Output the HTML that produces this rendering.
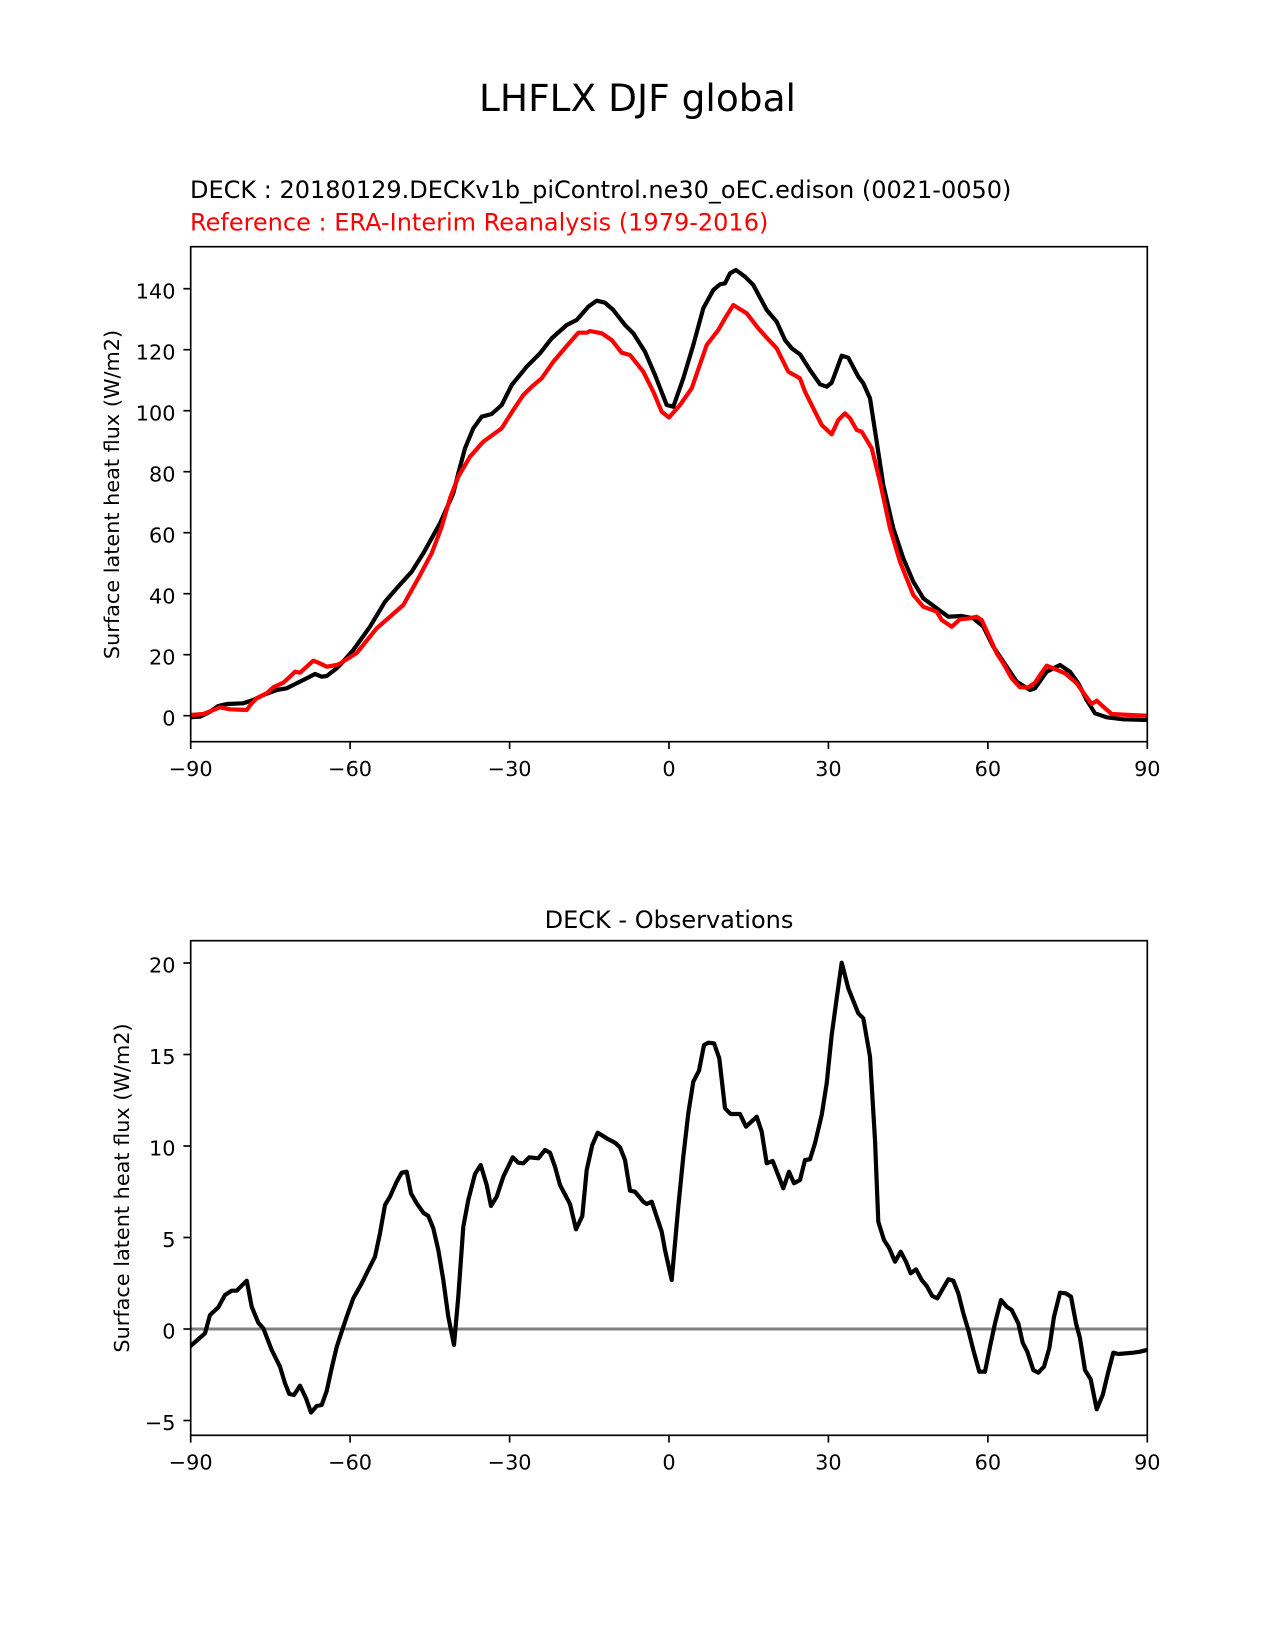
<!DOCTYPE html>
<html><head><meta charset="utf-8"><style>
html,body{margin:0;padding:0;background:#fff;}
svg{display:block;}
text{font-family:"DejaVu Sans","Liberation Sans",sans-serif;fill:#000;}
</style></head><body>
<svg width="1275" height="1650" viewBox="0 0 1275 1650" xmlns="http://www.w3.org/2000/svg">
<defs>
<clipPath id="c1"><rect x="190.7" y="246.7" width="956.6" height="495"/></clipPath>
<clipPath id="c2"><rect x="190.7" y="940.7" width="956.6" height="494.6"/></clipPath>
</defs>
<rect width="1275" height="1650" fill="#fff"/>
<text x="637.5" y="111" font-size="37.5" text-anchor="middle">LHFLX DJF global</text>
<text x="190" y="198" font-size="24">DECK : 20180129.DECKv1b_piControl.ne30_oEC.edison (0021-0050)</text>
<text x="190" y="230.5" font-size="24" style="fill:#ff0000">Reference : ERA-Interim Reanalysis (1979-2016)</text>

<!-- top plot -->
<g clip-path="url(#c1)" fill="none" stroke-width="4.2" stroke-linejoin="round" stroke-linecap="square">
<polyline stroke="#000" points="190.7,717.3 200,716.7 210,711.7 218.3,706 226.7,704 243.3,703.3 253.3,700 263.3,695 276.7,690 286.7,688.3 296.7,683.3 306.7,678.3 315,674 321.7,676.7 326.7,676 336.7,668.3 340,665 353.3,650 370,626.7 385,601.7 396.7,588.3 411.7,571.7 423.3,553.3 440,523.3 453.3,493.3 458.3,473.3 465,448.3 473.3,428.3 481.7,416.7 491.7,414 501.7,405 511.7,385 526.7,366.7 540,353.3 551.7,338.3 566.7,325 576.7,320 588.3,306.7 596.7,300.7 605,302.7 613.3,310 625,325 633.3,333.3 645,351.7 655,375 666.7,405 673.3,406.7 683.3,378.3 693.3,345 703.3,308.3 713.3,290 720,284.3 725,283.3 730,273.3 736,270 745,276.7 753.3,285 766.7,310 776.7,321.7 785,340 791.7,348.3 800,354.3 810,370 820,384.3 826.7,386.7 831.7,382.7 841.7,355.7 848.3,357.7 858.3,376.7 863.3,383.3 870,398.3 876.7,441.7 883.3,485 893.3,528.3 903.3,558.3 913.3,581.7 923.3,598.3 936.7,608.3 948.3,616.7 961.7,616 973.3,618.3 983.3,626.7 993.3,646.7 1003.3,661.7 1016.7,681.7 1030,690 1035,688.3 1046.7,671.7 1060,665 1070,671.7 1078.3,683.3 1086.7,700 1095,713.3 1106.7,717.3 1123.3,719.3 1146.7,720"/>
<polyline stroke="#ff0000" points="190.7,715 203.3,714 211.7,710.7 220,707.3 230,709.3 246.7,710 251.7,703.3 256.7,698.3 266.7,693.3 273.3,687.3 283.3,682.7 290,676.7 295,671.7 300,672.7 306.7,666.7 313.3,660.7 318.3,662.7 326.7,666.7 336.7,665 340,663.5 356.7,653 376.7,628.3 390,616.7 403.3,605 418.3,578.3 431.7,553.3 441.7,526.7 450,498.3 458.3,476.7 470,456.7 483.3,441.7 501.7,428.3 513.3,410 523.3,395 531.7,386.7 541.7,378.3 553.3,361.7 566.7,346 578.3,332.7 586.7,332.7 590,331 601.7,333.3 611.7,340 621.7,352.7 630,355 643.3,371.7 653.3,391.7 661.7,411.7 669,417.5 680,405 691.7,388.3 706.7,345 718.3,330 725,318.3 733.3,305 746.7,313.3 758.3,328.3 766.7,337.7 776.7,348.3 788.3,371.7 800,378.3 805,391.7 813.3,408.3 821.7,425 831.7,434.3 838.3,420 845,413.3 850,418.3 856.7,430 861.7,431.7 871.7,448.3 880,481.7 890,528.3 900,561.7 913.3,595 923.3,606.7 936.7,611.7 941.7,620 951.7,626.7 960,619.3 970,618.3 976.7,616.7 981.7,620 990,638.3 996.7,653.3 1003.3,663.3 1011.7,678.3 1020,687.3 1028.3,687.3 1035,682.7 1041.7,672.7 1046.7,665.7 1053.3,668.3 1065,673.3 1076.7,683.3 1085,695 1091.7,704 1096.7,700.7 1103.3,706.7 1111.7,714 1130,715 1146.7,715.7"/>
</g>
<rect x="190.7" y="246.7" width="956.6" height="495" fill="none" stroke="#000" stroke-width="1.67"/>
<g stroke="#000" stroke-width="1.67">
<line x1="190.7" y1="741.7" x2="190.7" y2="749"/>
<line x1="350.1" y1="741.7" x2="350.1" y2="749"/>
<line x1="509.6" y1="741.7" x2="509.6" y2="749"/>
<line x1="669" y1="741.7" x2="669" y2="749"/>
<line x1="828.4" y1="741.7" x2="828.4" y2="749"/>
<line x1="987.9" y1="741.7" x2="987.9" y2="749"/>
<line x1="1147.3" y1="741.7" x2="1147.3" y2="749"/>
<line x1="183.4" y1="715.7" x2="190.7" y2="715.7"/>
<line x1="183.4" y1="654.7" x2="190.7" y2="654.7"/>
<line x1="183.4" y1="593.7" x2="190.7" y2="593.7"/>
<line x1="183.4" y1="532.7" x2="190.7" y2="532.7"/>
<line x1="183.4" y1="471.7" x2="190.7" y2="471.7"/>
<line x1="183.4" y1="410.7" x2="190.7" y2="410.7"/>
<line x1="183.4" y1="349.7" x2="190.7" y2="349.7"/>
<line x1="183.4" y1="288.7" x2="190.7" y2="288.7"/>
</g>
<g font-size="20.8" text-anchor="middle">
<text x="190.7" y="776">−90</text>
<text x="350.1" y="776">−60</text>
<text x="509.6" y="776">−30</text>
<text x="669" y="776">0</text>
<text x="828.4" y="776">30</text>
<text x="987.9" y="776">60</text>
<text x="1147.3" y="776">90</text>
</g>
<g font-size="20.8" text-anchor="end">
<text x="175.5" y="725.3">0</text>
<text x="175.5" y="664.3">20</text>
<text x="175.5" y="603.3">40</text>
<text x="175.5" y="542.3">60</text>
<text x="175.5" y="481.3">80</text>
<text x="175.5" y="420.3">100</text>
<text x="175.5" y="359.3">120</text>
<text x="175.5" y="298.3">140</text>
</g>
<text font-size="20.8" text-anchor="middle" transform="translate(119,494.5) rotate(-90)">Surface latent heat flux (W/m2)</text>

<!-- bottom plot -->
<text x="669" y="928" font-size="24" text-anchor="middle">DECK - Observations</text>
<g clip-path="url(#c2)" fill="none" stroke-linejoin="round" stroke-linecap="square">
<line x1="190.7" y1="1329" x2="1147.3" y2="1329" stroke="#808080" stroke-width="3.1"/>
<polyline stroke="#000" stroke-width="4.2" points="191.7,1345 205,1333.3 210,1315 218.3,1307.3 225,1295 231.7,1290.7 236.7,1290.7 246.7,1280.7 251.7,1306.7 258.3,1322.7 263.3,1328.3 271.7,1350 280,1366.7 285,1383.3 289.3,1394 294,1395 300,1385.7 306,1398.3 311,1412.5 316.7,1406 321.7,1405 326.7,1391 331.7,1368 336.7,1347 341.7,1331.7 346.7,1316.7 353.3,1298.3 361.7,1283.3 368.3,1270 375,1256.7 380,1233.3 385,1205 390,1196.7 396.7,1181.7 401.7,1172.7 406.7,1171.7 411,1193.3 416.7,1203.3 423.3,1212.7 428.3,1216 433.3,1228.3 438.3,1250 443.3,1280 448.3,1316.7 454,1345 458.3,1296.7 463.3,1226.7 468.3,1200 475,1174 480.7,1165 486.7,1185 491,1206 496.7,1196.7 503.3,1176.7 512.7,1157.3 518.3,1162.7 523.3,1163.3 529.3,1157.3 538.3,1158.3 545,1150 550,1152.7 555,1166.7 560,1185 570,1204 576,1229.3 582.3,1216 586.7,1170 592.3,1145 597.7,1132.7 608.3,1139.3 615,1142.7 620,1147.3 625,1160 630,1190.7 635,1191.7 643.3,1201.7 646.7,1204 651.7,1201.7 656.7,1216.7 661.7,1231.7 665,1250 671.7,1280 678.3,1206.7 683.3,1156.7 688.3,1113.3 693.3,1081.7 699,1070.7 704,1045 708.3,1042.7 714,1043.3 719.3,1058.3 725,1108.3 730.7,1114 740,1114 746,1126.7 756.7,1116.7 761.7,1131.7 766.7,1163.3 772.7,1161 783.3,1188.3 789,1171.7 794,1183.3 800,1180 805,1160 810,1159.3 815,1143.3 821.7,1115 826.7,1083.3 831.7,1035 836.7,998.3 841.7,962.7 848.3,988.3 858.3,1013.3 863.3,1018.3 870,1056.7 875,1140 878.3,1221.7 884,1240 889.3,1248.3 895,1261.7 900.7,1251.7 906,1261.7 910.7,1273.3 916,1269.3 921.7,1280 926.7,1286 932.3,1296 937.3,1298.3 948.3,1279.3 953.3,1280.7 958.3,1293.3 963.3,1313.3 968.3,1330 973.3,1350 979.3,1371.7 985,1371.7 990,1346.7 995,1323.3 1001,1300 1006.7,1306.7 1011.7,1310 1018.3,1323.3 1022.7,1342.7 1027.3,1351.7 1033.3,1370 1038.3,1372.7 1044,1366.7 1049.3,1348.3 1054,1316.7 1060,1292.7 1065.7,1293.3 1071,1296.7 1076,1323.3 1080,1338.3 1085,1370 1090.7,1379.3 1096.7,1409.3 1102.7,1395 1108.3,1371.7 1113.3,1352.7 1118.3,1354 1133.3,1352.7 1140,1351.7 1146.7,1350"/>
</g>
<rect x="190.7" y="940.7" width="956.6" height="494.6" fill="none" stroke="#000" stroke-width="1.67"/>
<g stroke="#000" stroke-width="1.67">
<line x1="190.7" y1="1435.3" x2="190.7" y2="1442.6"/>
<line x1="350.1" y1="1435.3" x2="350.1" y2="1442.6"/>
<line x1="509.6" y1="1435.3" x2="509.6" y2="1442.6"/>
<line x1="669" y1="1435.3" x2="669" y2="1442.6"/>
<line x1="828.4" y1="1435.3" x2="828.4" y2="1442.6"/>
<line x1="987.9" y1="1435.3" x2="987.9" y2="1442.6"/>
<line x1="1147.3" y1="1435.3" x2="1147.3" y2="1442.6"/>
<line x1="183.4" y1="1420.5" x2="190.7" y2="1420.5"/>
<line x1="183.4" y1="1329" x2="190.7" y2="1329"/>
<line x1="183.4" y1="1237.5" x2="190.7" y2="1237.5"/>
<line x1="183.4" y1="1146" x2="190.7" y2="1146"/>
<line x1="183.4" y1="1054.5" x2="190.7" y2="1054.5"/>
<line x1="183.4" y1="963" x2="190.7" y2="963"/>
</g>
<g font-size="20.8" text-anchor="middle">
<text x="190.7" y="1469.5">−90</text>
<text x="350.1" y="1469.5">−60</text>
<text x="509.6" y="1469.5">−30</text>
<text x="669" y="1469.5">0</text>
<text x="828.4" y="1469.5">30</text>
<text x="987.9" y="1469.5">60</text>
<text x="1147.3" y="1469.5">90</text>
</g>
<g font-size="20.8" text-anchor="end">
<text x="175.5" y="1430.1">−5</text>
<text x="175.5" y="1338.6">0</text>
<text x="175.5" y="1247.1">5</text>
<text x="175.5" y="1155.6">10</text>
<text x="175.5" y="1064.1">15</text>
<text x="175.5" y="972.6">20</text>
</g>
<text font-size="20.8" text-anchor="middle" transform="translate(129,1188) rotate(-90)">Surface latent heat flux (W/m2)</text>
</svg>
</body></html>
